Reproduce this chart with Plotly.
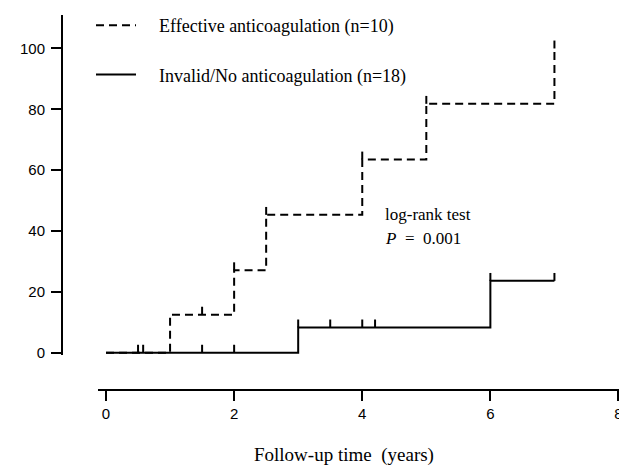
import plotly.graph_objects as go

# ---- data ----
eff_name = "Effective anticoagulation (n=10)"
eff_times = [0, 1, 2, 2.5, 4, 5, 7]
eff_values = [0, 12.5, 27.1, 45.3, 63.5, 81.8, 100]
eff_censor_times = [0.5, 0.58, 1.5, 2, 2.5, 4, 5, 7]
eff_censor_values = [0, 0, 12.5, 27.1, 45.3, 63.5, 81.8, 100]

inv_name = "Invalid/No anticoagulation (n=18)"
inv_times = [0, 3, 6, 7]
inv_values = [0, 8.3, 23.6, 23.6]
inv_censor_times = [1.5, 2, 3, 3.5, 4, 4.2, 6, 7]
inv_censor_values = [0, 0, 8.3, 8.3, 8.3, 8.3, 23.6, 23.6]

x_ticks = [0, 2, 4, 6, 8]
y_ticks = [0, 20, 40, 60, 80, 100]

# ---- styles ----
W, H = 619, 467
CENSOR_LEN = 2.6          # tick height in y units
DASH = "8px,5px"
SERIF = "Liberation Serif, Times New Roman, serif"
SANS = "Liberation Sans, Arial, sans-serif"
PAD = "\u00a0" * 4        # gap between legend glyph and legend text


def censor_segments(times, values):
    xs, ys = [], []
    for t, v in zip(times, values):
        xs += [t, t, None]
        ys += [v, v + CENSOR_LEN, None]
    return xs, ys


fig = go.Figure()

fig.add_trace(go.Scatter(
    x=eff_times, y=eff_values, mode="lines", line_shape="hv",
    line=dict(color="black", width=2, dash=DASH),
    name=PAD + eff_name, legendgroup="a"))
cx, cy = censor_segments(eff_censor_times, eff_censor_values)
fig.add_trace(go.Scatter(x=cx, y=cy, mode="lines",
                         line=dict(color="black", width=2),
                         showlegend=False, hoverinfo="skip"))

fig.add_trace(go.Scatter(
    x=inv_times, y=inv_values, mode="lines", line_shape="hv",
    line=dict(color="black", width=2),
    name=PAD + inv_name, legendgroup="b"))
cx, cy = censor_segments(inv_censor_times, inv_censor_values)
fig.add_trace(go.Scatter(x=cx, y=cy, mode="lines",
                         line=dict(color="black", width=2),
                         showlegend=False, hoverinfo="skip"))

fig.add_annotation(x=4.33, y=45.3, xref="x", yref="y", text="log-rank test",
                   showarrow=False, xanchor="left", yanchor="middle",
                   font=dict(family=SERIF, size=17, color="black"))
fig.add_annotation(x=4.33, y=37.5, xref="x", yref="y",
                   text="<i>P</i>  =  0.001",
                   showarrow=False, xanchor="left", yanchor="middle",
                   font=dict(family=SERIF, size=17, color="black"))
fig.add_annotation(x=344 / W, y=1 - 455 / H, xref="paper", yref="paper",
                   text="Follow-up time  (years)", showarrow=False,
                   xanchor="center", yanchor="middle",
                   font=dict(family=SERIF, size=19, color="black"))

fig.update_layout(
    width=W, height=H,
    margin=dict(l=0, r=0, t=0, b=0, autoexpand=False),
    paper_bgcolor="white", plot_bgcolor="white",
    showlegend=True,
    legend=dict(x=91 / W, y=1 - 7 / H, xanchor="left", yanchor="top",
                bgcolor="rgba(0,0,0,0)", tracegroupgap=23,
                itemwidth=40,
                font=dict(family=SERIF, size=18, color="black")),
    xaxis=dict(domain=[98 / W, 1.0], range=[-0.125, 8.008],
               anchor="free", position=1 - 390 / H, automargin=False,
               showline=True, linecolor="black", linewidth=2,
               ticks="outside", ticklen=10, tickwidth=2, tickcolor="black",
               tickvals=x_ticks, ticktext=[str(v) for v in x_ticks],
               ticklabeloverflow="allow",
               showgrid=False, zeroline=False,
               tickfont=dict(family=SANS, size=15, color="black")),
    yaxis=dict(domain=[1 - 355.1 / H, 1 - 15 / H], range=[-0.8, 111],
               anchor="free", position=62 / W, automargin=False,
               showline=True, linecolor="black", linewidth=2,
               ticks="outside", ticklen=10, tickwidth=2, tickcolor="black",
               tickvals=y_ticks, ticktext=[str(v) for v in y_ticks],
               showgrid=False, zeroline=False, ticklabelstandoff=3,
               tickfont=dict(family=SANS, size=15, color="black")),
)

fig.write_html("out.html",
               config={"displayModeBar": False},
               post_script="document.body.style.margin='0';"
                           "document.body.style.overflow='hidden';")
